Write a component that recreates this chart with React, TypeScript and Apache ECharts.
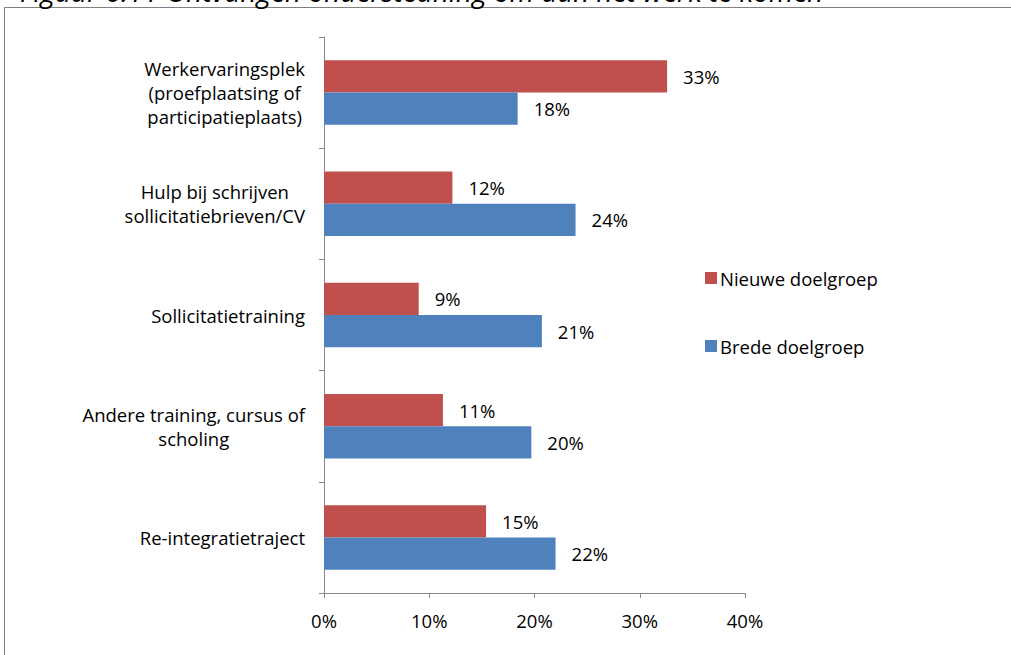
import React, { useEffect, useRef } from "react";
import * as echarts from "echarts";

const categories = [
  "Werkervaringsplek\n(proefplaatsing of\nparticipatieplaats)",
  "Hulp bij schrijven\nsollicitatiebrieven/CV",
  "Sollicitatietraining",
  "Andere training, cursus of\nscholing",
  "Re-integratietraject",
];
const nieuweDoelgroep = [32.6, 12.2, 9.0, 11.3, 15.4];
const bredeDoelgroep = [18.4, 23.9, 20.7, 19.7, 22.0];
const xTicks = [0, 10, 20, 30, 40];
const seriesNames = ["Nieuwe doelgroep", "Brede doelgroep"];
const titleText = "Figuur 6.11 Ontvangen ondersteuning om aan het werk te komen";

const FONT = "'Open Sans', 'Noto Sans', sans-serif";
const FS = 18.5;

export default function App() {
  const ref = useRef<HTMLDivElement>(null);
  useEffect(() => {
    if (!ref.current) return;
    const chart = echarts.init(ref.current, null, { renderer: "svg" });
    const labelCfg = {
      show: true,
      position: "right",
      distance: 16,
      color: "#000",
      fontFamily: FONT,
      fontSize: FS,
      formatter: (p: any) => Math.round(p.value) + "%",
    };
    chart.setOption({
      animation: false,
      backgroundColor: "#fff",
      textStyle: { fontFamily: FONT },
      graphic: [
        {
          type: "rect",
          shape: { x: 4.5, y: 7.5, width: 1100, height: 700 },
          style: { fill: "none", stroke: "#808080", lineWidth: 1 },
          silent: true,
        },
        {
          type: "text",
          x: 20,
          y: 5,
          style: {
            text: titleText,
            font: "italic 28px 'Open Sans', sans-serif",
            fill: "#000",
            textVerticalAlign: "bottom",
          },
        },
      ],
      legend: {
        orient: "vertical",
        left: 700,
        top: 263,
        itemWidth: 12,
        itemHeight: 12,
        itemGap: 48,
        icon: "rect",
        textStyle: {
          fontFamily: FONT,
          fontSize: FS,
          lineHeight: 20,
          color: "#000",
          padding: [0, 0, 0, -2],
        },
        data: seriesNames,
      },
      grid: { left: 324, top: 37, right: 266, bottom: 62, containLabel: false },
      xAxis: {
        type: "value",
        min: xTicks[0],
        max: xTicks[xTicks.length - 1],
        interval: 10,
        axisLine: { show: true, lineStyle: { color: "#888", width: 1 } },
        axisTick: { show: true, length: 5, lineStyle: { color: "#888" } },
        splitLine: { show: false },
        axisLabel: {
          formatter: (v: number) => v + "%",
          color: "#000",
          fontFamily: FONT,
          fontSize: FS,
          margin: 18,
        },
      },
      yAxis: {
        type: "category",
        inverse: true,
        data: categories,
        axisLine: { show: true, lineStyle: { color: "#888", width: 1 } },
        axisTick: { show: true, length: 5, lineStyle: { color: "#888" } },
        axisLabel: {
          color: "#000",
          fontFamily: FONT,
          fontSize: FS,
          lineHeight: 24,
          align: "right",
          margin: 19,
          formatter: (v: string) =>
            v
              .split("\n")
              .map((l) => "{c|" + l + "}")
              .join("\n"),
          rich: {
            c: {
              align: "center",
              fontFamily: FONT,
              fontSize: FS,
              lineHeight: 24,
              color: "#000",
            },
          },
        },
      },
      series: [
        {
          name: seriesNames[0],
          type: "bar",
          data: nieuweDoelgroep,
          itemStyle: { color: "#C0504D" },
          barGap: "0%",
          barCategoryGap: "42%",
          label: labelCfg,
        },
        {
          name: seriesNames[1],
          type: "bar",
          data: bredeDoelgroep,
          itemStyle: { color: "#4F81BD" },
          barGap: "0%",
          barCategoryGap: "42%",
          label: labelCfg,
        },
      ],
    });
    return () => chart.dispose();
  }, []);
  return <div ref={ref} style={{ width: 1011, height: 655, position: "absolute", left: 0, top: 0 }} />;
}
